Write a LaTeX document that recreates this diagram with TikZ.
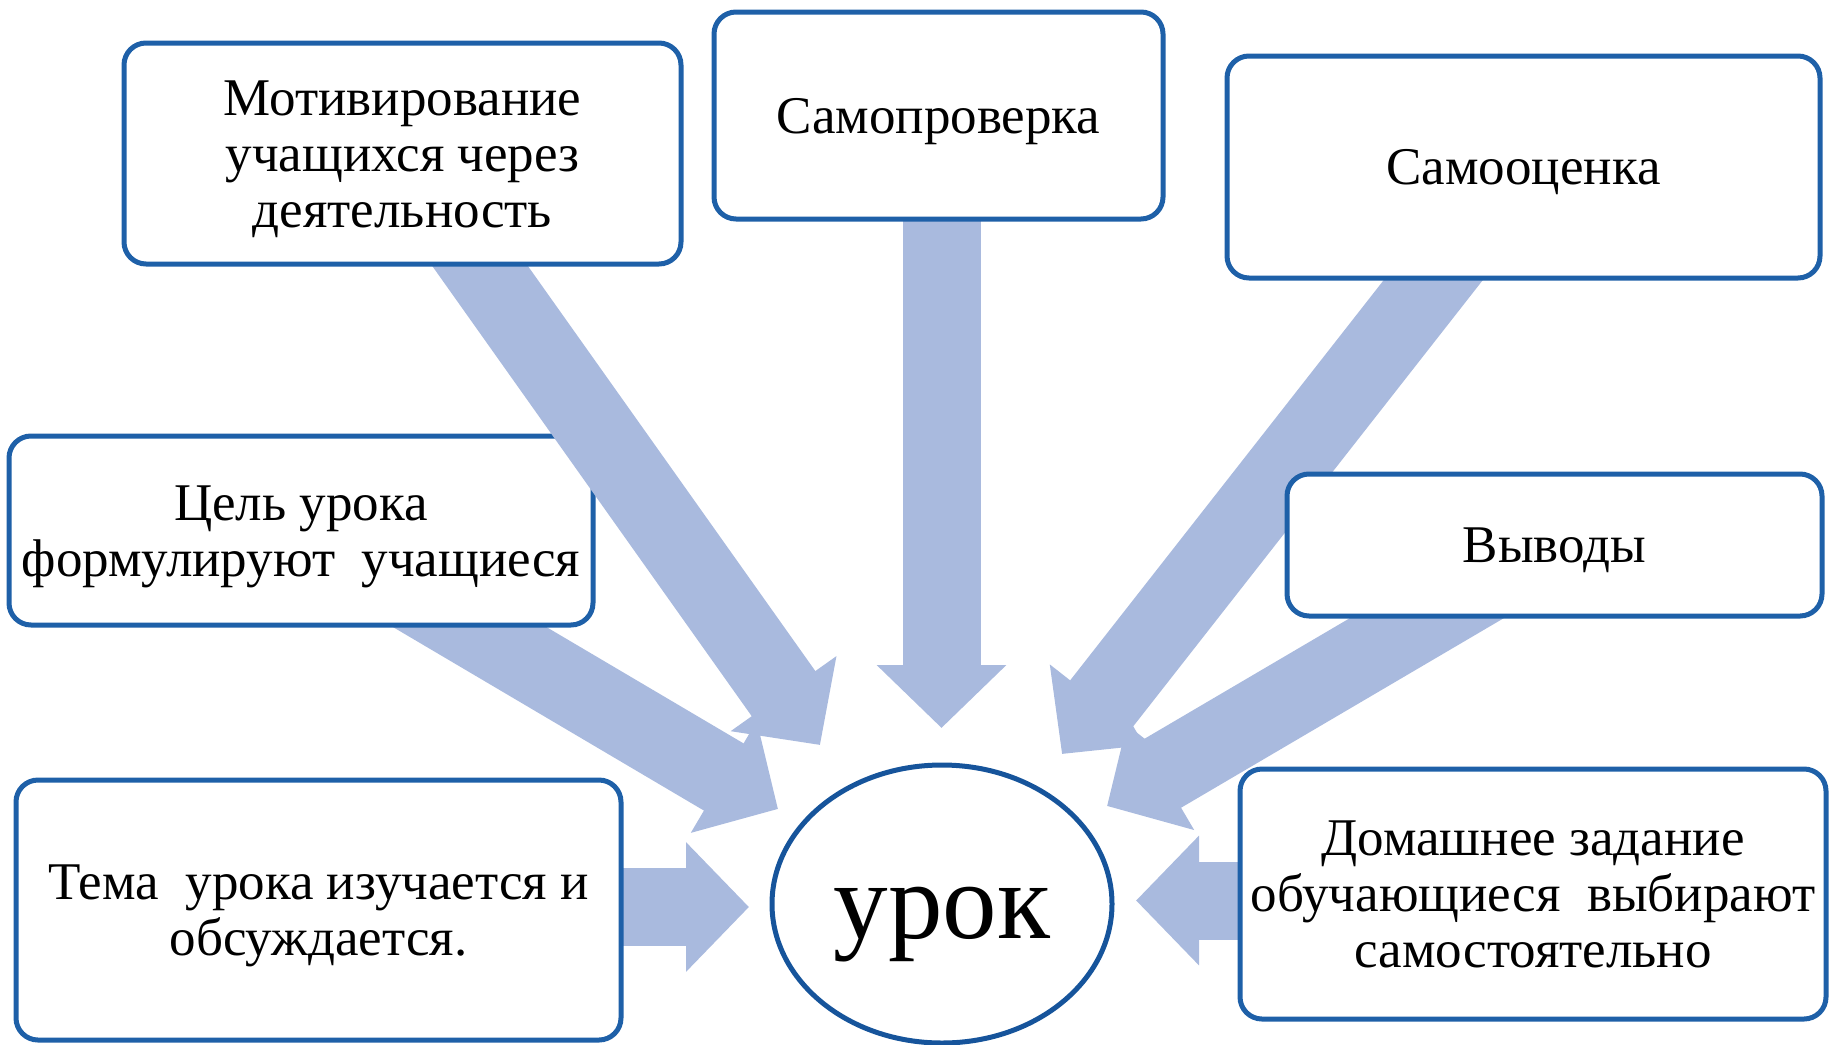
\documentclass[tikz,border=0pt]{standalone}
\usepackage{fontspec}
\setmainfont{Liberation Serif}
\usetikzlibrary{arrows.meta,shapes.geometric,calc}
\definecolor{boxblue}{RGB}{30,96,168}
\definecolor{ringblue}{RGB}{22,84,155}
\definecolor{arrowblue}{RGB}{169,186,222}
\pgfdeclarelayer{back}
\pgfdeclarelayer{mid}
\pgfdeclarelayer{arr}
\pgfsetlayers{back,mid,arr,main}
% line box as a word processor sets it
\newcommand{\lnup}{\rule{0pt}{23.6pt}}
\newcommand{\lndown}{\rule[-5.7pt]{0pt}{5.7pt}}

\begin{document}
\begin{tikzpicture}[x=0.5pt,y=-0.5pt,
    box/.style={draw=boxblue, line width=2.5pt, rounded corners=11pt, fill=white,
        align=center, inner sep=0pt, font=\fontsize{26.5}{28}\selectfont},
    bigarrow/.style={draw=arrowblue, line width=39pt,
        -{Triangle[width=63pt,length=31.5pt]}}]
    \useasboundingbox (0,0) rectangle (1829,1044);

    % boxes round the lesson
    \node[box, minimum width=278.5pt, minimum height=110.5pt] (b1) at (402.5,153.5)
        {\lnup Мотивирование\\учащихся через\\деятельность\lndown};
    \node[box, minimum width=224.5pt, minimum height=103.5pt] (b2) at (938.5,115.5)
        {\lnup Самопроверка\lndown};
    \node[box, minimum width=296.5pt, minimum height=111pt] (b3) at (1523.5,167)
        {\lnup Самооценка\lndown};
    \begin{pgfonlayer}{mid}
        \node[box, minimum width=292pt, minimum height=94.5pt] (b4) at (301,530.5)
            {\lnup Цель урока\\формулируют~ учащиеся\lndown};
    \end{pgfonlayer}
    \node[box, minimum width=267.5pt, minimum height=71pt] (b5) at (1554.5,545)
        {\lnup Выводы\lndown};
    \node[box, minimum width=302.5pt, minimum height=130pt] (b6) at (318.5,910)
        {\lnup Тема~ урока изучается и\\обсуждается.\lndown};
    \node[box, minimum width=293pt, minimum height=125pt] (b7) at (1533,894)
        {\lnup Домашнее задание\\обучающиеся~ выбирают\\самостоятельно\lndown};

    % centre
    \node[ellipse, draw=ringblue, line width=2.5pt, fill=white, inner sep=0pt,
        minimum width=170pt, minimum height=139pt,
        font=\fontsize{54.5}{60}\selectfont, text height=40pt, text depth=6pt]
        (urok) at (942,904) {урок};

    % arrow tips
    \coordinate (t1) at (820,745);
    \coordinate (t2) at (941.5,728);
    \coordinate (t3) at (1062,754);
    \coordinate (t4) at (778,809);
    \coordinate (t5) at (1107,806);
    \coordinate (t6) at (749,907);
    \coordinate (t7) at (1136,900.5);

    \begin{pgfonlayer}{back}
        \draw[bigarrow] ($(b4.south)+(100,-41)$) -- (t4);
    \end{pgfonlayer}
    \begin{pgfonlayer}{arr}
        \draw[bigarrow] ($(b1.south)+(54.5,-33)$) -- (t1);
        \draw[bigarrow] ($(b2.south)+(3,-20)$) -- (t2);
        \draw[bigarrow] ($(b3.south)+(-65.5,-32)$) -- (t3);
        \draw[bigarrow] ($(b5.south)+(-58.5,-41)$) -- (t5);
        \draw[bigarrow] ($(b6.east)+(-21,-3)$) -- (t6);
        \draw[bigarrow] ($(b7.west)+(20,6.5)$) -- (t7);
    \end{pgfonlayer}
\end{tikzpicture}
\end{document}
